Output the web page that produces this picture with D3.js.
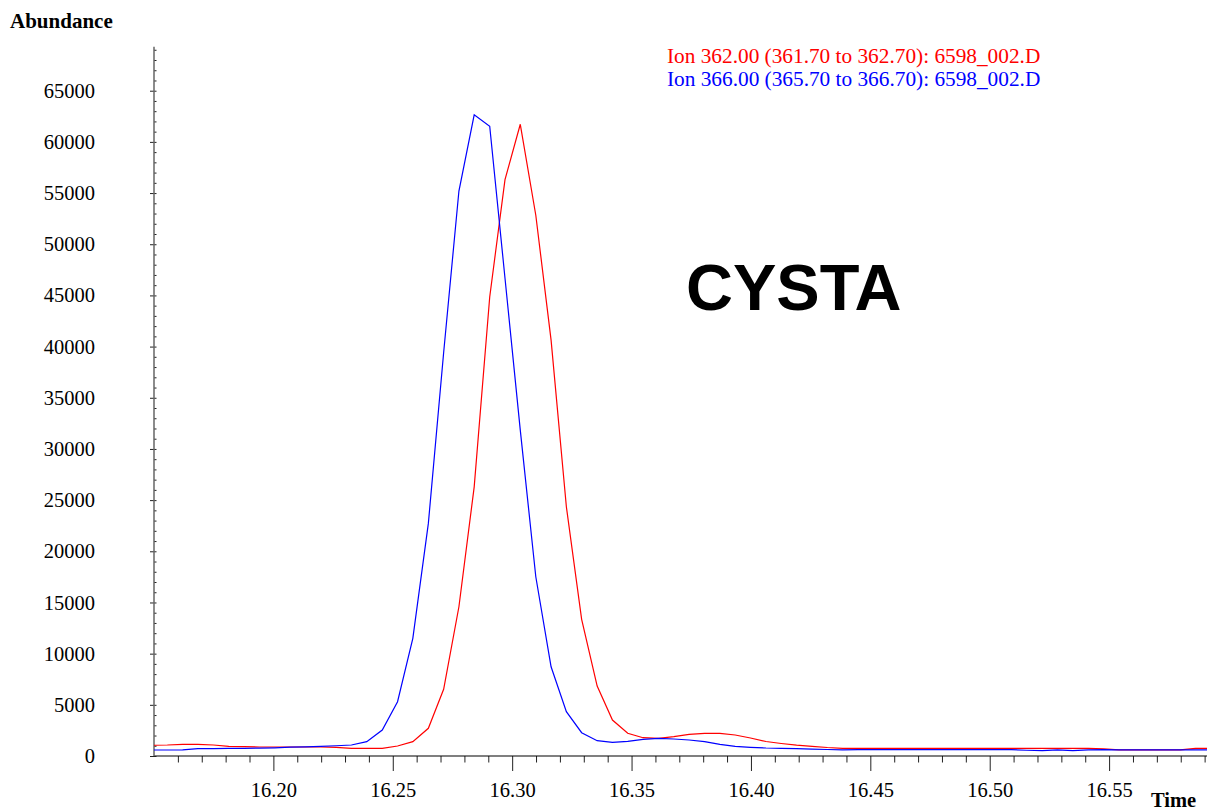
<!DOCTYPE html>
<html>
<head>
<meta charset="utf-8">
<script src="https://cdn.jsdelivr.net/npm/d3@7"></script>
<style>
	body { margin: 0; background: #fff; }
	svg { display: block; }
	text { font-family: 'Liberation Serif', 'Times New Roman', serif; }
</style>
</head>
<body>
<div id="graph"></div>
<script>
// Scan times (min), one scan every ~0.0064 min
const times = [
	16.1491, 16.1556, 16.1620, 16.1684, 16.1749, 16.1813, 16.1877, 16.1941, 16.2006, 16.2070,
	16.2134, 16.2199, 16.2263, 16.2327, 16.2391, 16.2456, 16.2520, 16.2584, 16.2649, 16.2713,
	16.2777, 16.2841, 16.2906, 16.2970, 16.3034, 16.3099, 16.3163, 16.3227, 16.3291, 16.3356,
	16.3420, 16.3484, 16.3548, 16.3613, 16.3677, 16.3741, 16.3806, 16.3870, 16.3934, 16.3998,
	16.4063, 16.4127, 16.4191, 16.4256, 16.4320, 16.4384, 16.4448, 16.4513, 16.4577, 16.4641,
	16.4705, 16.4770, 16.4834, 16.4898, 16.4963, 16.5027, 16.5091, 16.5155, 16.5220, 16.5284,
	16.5348, 16.5413, 16.5477, 16.5541, 16.5605, 16.5670, 16.5734, 16.5798, 16.5862, 16.5927
];

// Ion 362.00 abundance
const ion362 = [
	1045, 1074, 1143, 1143, 1074, 947, 908, 879, 879, 879,
	879, 879, 850, 752, 752, 752, 977, 1397, 2705, 6514,
	14580, 26300, 44850, 56320, 61720, 52830, 40630, 24350, 13350, 6836,
	3516, 2217, 1787, 1729, 1885, 2119, 2217, 2217, 2051, 1758,
	1416, 1221, 1055, 947, 830, 752, 740, 740, 740, 740,
	740, 740, 740, 740, 740, 740, 740, 740, 740, 740,
	740, 740, 700, 590, 590, 590, 590, 600, 750, 750
];

// Ion 366.00 abundance
const ion366 = [
	586, 586, 600, 713, 730, 740, 750, 770, 800, 860,
	900, 950, 1000, 1074, 1397, 2539, 5303, 11493, 22725, 39400,
	55200, 62650, 61530, 46680, 31840, 17510, 8721, 4327, 2276, 1494,
	1338, 1436, 1631, 1729, 1660, 1563, 1397, 1143, 947, 850,
	780, 750, 720, 680, 635, 600, 620, 620, 620, 620,
	620, 620, 620, 620, 620, 620, 620, 560, 520, 600,
	520, 600, 620, 600, 600, 590, 590, 590, 590, 590
];

const series = [
	{ name: 'Ion 362.00 (361.70 to 362.70): 6598_002.D', color: '#ff0000', values: ion362 },
	{ name: 'Ion 366.00 (365.70 to 366.70): 6598_002.D', color: '#0000ff', values: ion366 }
];

const xMajor = [16.20, 16.25, 16.30, 16.35, 16.40, 16.45, 16.50, 16.55];
const yMajor = [0, 5000, 10000, 15000, 20000, 25000, 30000, 35000, 40000, 45000, 50000, 55000, 60000, 65000];

const W = 1211, H = 810;
const plot = { left: 154, right: 1207, top: 46.7, bottom: 756 };

const svg = d3
	.select('#graph')
	.append('svg')
	.attr('width', W)
	.attr('height', H);

const x = d3.scaleLinear().domain([16.15, 16.591]).range([plot.left, plot.right]);
const y = d3.scaleLinear().domain([0, 69300]).range([plot.bottom, plot.top]);

// Clip lines to the plot area
svg
	.append('clipPath')
	.attr('id', 'clip')
	.append('rect')
	.attr('x', plot.left)
	.attr('y', 0)
	.attr('width', plot.right - plot.left)
	.attr('height', plot.bottom);

// Minor x ticks (every 0.01)
const xMinor = d3.range(16.16, 16.595, 0.01).filter((v) => !xMajor.some((m) => Math.abs(m - v) < 1e-6));
svg
	.append('g')
	.attr('transform', `translate(0, ${plot.bottom})`)
	.call(d3.axisBottom(x).tickValues(xMinor).tickSize(6.5).tickFormat(''))
	.call((g) => g.select('.domain').remove())
	.selectAll('line')
	.attr('stroke', '#222');

// Major x ticks + labels
const xAxis = svg
	.append('g')
	.attr('transform', `translate(0, ${plot.bottom})`)
	.call(d3.axisBottom(x).tickValues(xMajor).tickSize(15).tickFormat(d3.format('.2f')));
xAxis.select('.domain').remove();
xAxis.selectAll('.tick line').attr('stroke', '#222');
xAxis
	.selectAll('.tick text')
	.attr('y', 41)
	.attr('dy', 0)
	.attr('fill', '#000')
	.style('font-size', '20.5px')
	.style('font-family', "'Liberation Serif', serif");

// x axis line
svg
	.append('line')
	.attr('x1', plot.left)
	.attr('x2', plot.right)
	.attr('y1', plot.bottom)
	.attr('y2', plot.bottom)
	.attr('stroke', '#000')
	.attr('stroke-width', 1.2);

// Minor y ticks (every 1000)
const yMinor = d3.range(1000, 69300, 1000).filter((v) => v % 5000 !== 0);
svg
	.append('g')
	.attr('transform', `translate(${plot.left}, 0)`)
	.call(d3.axisRight(y).tickValues(yMinor).tickSize(2.5).tickFormat(''))
	.call((g) => g.select('.domain').remove())
	.selectAll('line')
	.attr('stroke', '#222');

// Major y ticks + labels
const yAxis = svg
	.append('g')
	.attr('transform', `translate(${plot.left}, 0)`)
	.call(d3.axisLeft(y).tickValues(yMajor).tickSize(4).tickPadding(55).tickFormat(d3.format('d')));
yAxis.select('.domain').remove();
yAxis.selectAll('.tick line').attr('stroke', '#222').attr('x2', -4).attr('x1', 2.5);
yAxis
	.selectAll('.tick text')
	.attr('fill', '#000')
	.style('font-size', '20.5px')
	.style('font-family', "'Liberation Serif', serif");

// y axis line
svg
	.append('line')
	.attr('x1', plot.left)
	.attr('x2', plot.left)
	.attr('y1', plot.top)
	.attr('y2', plot.bottom)
	.attr('stroke', '#666')
	.attr('stroke-width', 1.5);

// Lines
const line = d3
	.line()
	.x((d, i) => x(times[i]))
	.y((d) => y(d));

svg
	.append('g')
	.attr('clip-path', 'url(#clip)')
	.selectAll('path')
	.data(series)
	.join('path')
	.attr('d', (d) => line(d.values))
	.attr('fill', 'none')
	.attr('stroke', (d) => d.color)
	.attr('stroke-width', 1.2);

// Axis titles
svg
	.append('text')
	.attr('x', 10)
	.attr('y', 28)
	.style('font-size', '21px')
	.style('font-weight', 'bold')
	.text('Abundance');

svg
	.append('text')
	.attr('x', 1151)
	.attr('y', 807)
	.style('font-size', '20.5px')
	.style('font-weight', 'bold')
	.text('Time');

// Legend
svg
	.selectAll('.legend')
	.data(series)
	.join('text')
	.attr('class', 'legend')
	.attr('x', 667)
	.attr('y', (d, i) => 62.5 + i * 23.5)
	.attr('fill', (d) => d.color)
	.style('font-size', '21.3px')
	.text((d) => d.name);

// Compound label
svg
	.append('text')
	.attr('x', 686)
	.attr('y', 310)
	.style('font-family', "'Liberation Sans', Arial, sans-serif")
	.style('font-weight', 'bold')
	.style('font-size', '65px')
	.text('CYSTA');
</script>
</body>
</html>
